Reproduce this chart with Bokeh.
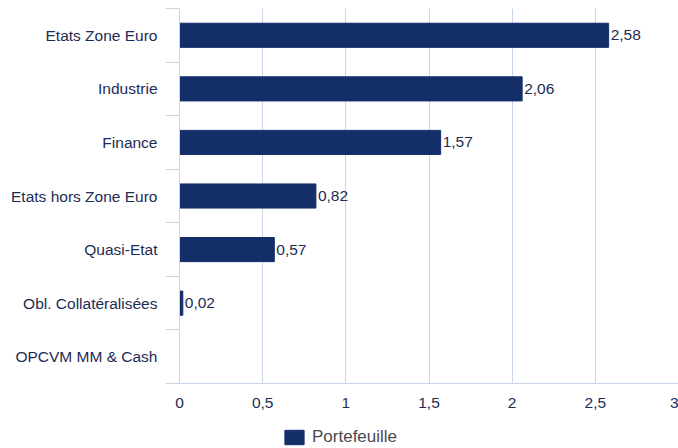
from bokeh.plotting import figure
from bokeh.models import Range1d, FixedTicker, ColumnDataSource, Legend, LegendItem
from bokeh.layouts import column
from bokeh.core.properties import value
from bokeh.embed import file_html
from bokeh.resources import INLINE

categories = ["Etats Zone Euro", "Industrie", "Finance", "Etats hors Zone Euro",
              "Quasi-Etat", "Obl. Collatéralisées", "OPCVM MM & Cash"]
portefeuille = [2.58, 2.06, 1.57, 0.82, 0.57, 0.02, 0.0]
x_ticks = [0, 0.5, 1, 1.5, 2, 2.5, 3]
x_tick_labels = ["0", "0,5", "1", "1,5", "2", "2,5", "3"]
series_name = "Portefeuille"

BAR = "#142e69"
TXT = "#1d2c55"
GRID = "#c9d6e8"
FONT = "Liberation Sans"

n = len(categories)
ypos = [n - i - 0.5 for i in range(n)]

src = ColumnDataSource(dict(y=ypos, v=portefeuille, cat=categories))
lab_idx = [i for i, v in enumerate(portefeuille) if v > 0]
lab_src = ColumnDataSource(dict(
    y=[ypos[i] for i in lab_idx],
    v=[portefeuille[i] for i in lab_idx],
    t=[f"{portefeuille[i]:.2f}".replace(".", ",") for i in lab_idx],
))

p = figure(width=678, height=420, output_backend="svg", toolbar_location=None,
           x_range=Range1d(0, 3), y_range=Range1d(0, n),
           min_border_left=179, min_border_right=0, min_border_top=8, min_border_bottom=37)
p.outline_line_color = None
p.background_fill_color = "white"

p.hbar(y="y", right="v", left=0, height=0.45, source=src, fill_color=BAR,
       line_color=BAR)
p.text(x="v", y="y", text="t", source=lab_src, x_offset=2,
       text_baseline="middle", text_align="left", text_color=TXT,
       text_font=value(FONT), text_font_size="15.5px")

# x axis
xa = p.xaxis[0]
xa.ticker = FixedTicker(ticks=x_ticks)
xa.major_label_overrides = {float(t): l for t, l in zip(x_ticks, x_tick_labels)}
xa.axis_line_color = GRID
xa.major_tick_out = 0
xa.major_tick_in = 0
xa.minor_tick_out = 0
xa.minor_tick_in = 0
xa.major_label_standoff = 14
xa.major_label_text_font = FONT
xa.major_label_text_font_size = "15.5px"
xa.major_label_text_color = TXT

# y axis
ya = p.yaxis[0]
ya.ticker = FixedTicker(ticks=ypos, minor_ticks=list(range(n + 1)))
ya.major_label_overrides = {float(y): c for y, c in zip(ypos, categories)}
ya.axis_line_color = GRID
ya.major_tick_out = 0
ya.major_tick_in = 0
ya.minor_tick_out = 14
ya.minor_tick_in = 0
ya.minor_tick_line_color = GRID
ya.major_label_standoff = 8
ya.major_label_text_font = FONT
ya.major_label_text_font_size = "15.5px"
ya.major_label_text_color = TXT

p.xgrid.grid_line_color = GRID
p.xgrid.ticker = FixedTicker(ticks=x_ticks)
p.ygrid.grid_line_color = None

# legend strip (its series renderer shares the data but lies far outside the view)
pl = figure(width=678, height=28, output_backend="svg", toolbar_location=None,
            x_range=Range1d(-11, -10), y_range=Range1d(-12, -11),
            x_axis_type=None, y_axis_type=None,
            min_border_left=0, min_border_right=0, min_border_top=0, min_border_bottom=0)
pl.outline_line_color = None
pl.xgrid.grid_line_color = None
pl.ygrid.grid_line_color = None
lr = pl.hbar(y="y", right="v", left=0, height=0.45, source=src,
             fill_color=BAR, line_color=BAR)
lg = Legend(items=[LegendItem(label=series_name, renderers=[lr])],
            location=(103, 1), orientation="horizontal")
lg.border_line_color = None
lg.background_fill_alpha = 0
lg.padding = 0
lg.margin = 0
lg.glyph_width = 24
lg.glyph_height = 18
lg.label_height = 18
lg.label_standoff = 6
lg.label_text_font = FONT
lg.label_text_font_size = "17px"
lg.label_text_color = "#4a4a4a"
pl.add_layout(lg, "center")

layout = column(p, pl, spacing=0)
open("out.html", "w").write(file_html(layout, INLINE))
